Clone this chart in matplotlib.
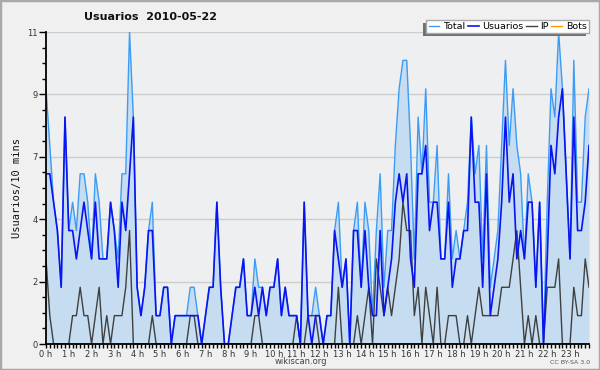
import numpy as np
import matplotlib
matplotlib.use("Agg")
import matplotlib.pyplot as plt
from matplotlib.patches import Rectangle

title = "Usuarios  2010-05-22"
ylabel = "Usuarios/10 mins"
hour_labels = [f"{h} h" for h in range(24)]
ytick_values = [0, 2.2, 4.4, 6.6, 8.8, 11]
ytick_labels = ["0", "2", "4", "7", "9", "11"]

total = [9, 7, 5, 4, 2, 8, 4, 5, 4, 6, 6, 5, 3, 6, 5, 3, 3, 5, 4, 3, 6, 6, 11, 8,
         2, 1, 2, 4, 5, 1, 1, 2, 2, 0, 1, 1, 1, 1, 2, 2, 1, 0, 1, 2, 2, 5, 2, 0,
         0, 1, 2, 2, 3, 1, 1, 3, 2, 2, 1, 2, 2, 3, 1, 2, 1, 1, 1, 0, 5, 1, 1, 2,
         1, 0, 1, 1, 4, 5, 2, 3, 0, 4, 5, 2, 5, 4, 1, 4, 6, 2, 4, 4, 7, 9, 10, 10,
         7, 3, 8, 6, 9, 5, 5, 7, 3, 3, 6, 3, 4, 3, 4, 5, 8, 6, 7, 3, 7, 2, 3, 4,
         7, 10, 7, 9, 7, 6, 3, 6, 5, 2, 5, 0, 5, 9, 8, 11, 9, 6, 3, 10, 5, 5, 8, 9]
usuarios = [6, 6, 5, 4, 2, 8, 4, 4, 3, 4, 5, 4, 3, 5, 3, 3, 3, 5, 4, 2, 5, 4, 6, 8,
            2, 1, 2, 4, 4, 1, 1, 2, 2, 0, 1, 1, 1, 1, 1, 1, 1, 0, 1, 2, 2, 5, 2, 0,
            0, 1, 2, 2, 3, 1, 1, 2, 1, 2, 1, 2, 2, 3, 1, 2, 1, 1, 1, 0, 5, 1, 0, 1,
            1, 0, 1, 1, 4, 3, 2, 3, 0, 4, 4, 2, 4, 2, 1, 1, 4, 1, 2, 3, 5, 6, 5, 6,
            3, 2, 6, 6, 7, 4, 5, 5, 3, 3, 5, 2, 3, 3, 4, 4, 8, 5, 5, 2, 6, 1, 2, 3,
            5, 8, 5, 6, 3, 4, 3, 5, 5, 2, 5, 0, 3, 7, 6, 8, 9, 6, 3, 8, 4, 4, 5, 7]
ip = [3, 1, 0, 0, 0, 0, 0, 1, 1, 2, 1, 1, 0, 1, 2, 0, 1, 0, 1, 1, 1, 2, 4, 0,
      0, 0, 0, 0, 1, 0, 0, 0, 0, 0, 0, 0, 0, 0, 1, 1, 0, 0, 0, 0, 0, 0, 0, 0,
      0, 0, 0, 0, 0, 0, 0, 1, 1, 0, 0, 0, 0, 0, 0, 0, 0, 0, 1, 0, 0, 1, 1, 1,
      0, 0, 0, 0, 0, 2, 0, 0, 0, 0, 1, 0, 1, 2, 0, 3, 2, 1, 2, 1, 2, 3, 5, 4,
      4, 1, 2, 0, 2, 1, 0, 2, 0, 0, 1, 1, 1, 0, 0, 1, 0, 1, 2, 1, 1, 1, 1, 1,
      2, 2, 2, 3, 4, 2, 0, 1, 0, 1, 0, 0, 2, 2, 2, 3, 0, 0, 0, 2, 1, 1, 3, 2]
bots = [0] * 144

slots = np.arange(len(total))

W, H = 600, 370
fig = plt.figure(figsize=(6, 3.7), dpi=100, facecolor="#f0f0f0")
fig.patches.append(Rectangle((0, 0), 1, 1, transform=fig.transFigure, fill=False,
                             edgecolor="#a8a8a8", lw=2.5, zorder=10))
ax = fig.add_axes([46 / W, 26 / H, 543 / W, 312 / H])
ax.set_facecolor("#eeeff1")

ax.fill_between(slots, total, 0, color="#c6dcf0", lw=0, zorder=1)
ax.plot(slots, bots, color="#ff9900", lw=1, zorder=1.5, label="Bots")
ax.plot(slots, total, color="#3c9cf5", lw=1.0, zorder=2, label="Total")
ax.plot(slots, ip, color="#404040", lw=1.0, zorder=2.1, label="IP")
ax.plot(slots, usuarios, color="#0a14f0", lw=1.2, zorder=2.2, label="Usuarios")

ax.set_xlim(0, len(total) - 1)
ax.set_ylim(0, 11)
ax.set_yticks(ytick_values)
ax.set_yticklabels(ytick_labels)
ax.set_yticks(np.arange(0, 11.01, 0.55), minor=True)
ax.set_xticks(np.arange(0, 144, 6))
ax.set_xticklabels(hour_labels)
ax.set_xticks(slots, minor=True)
ax.yaxis.grid(True, which="major", color="#cccccc", lw=1)
ax.set_axisbelow(True)

for s in ["top", "right"]:
    ax.spines[s].set_visible(False)
for s in ["left", "bottom"]:
    ax.spines[s].set_color("black")
    ax.spines[s].set_linewidth(1.3)
    ax.spines[s].set_zorder(3)

ax.tick_params(axis="y", which="major", length=5, width=1, color="black",
               labelsize=6, labelcolor="#333333", pad=1)
ax.tick_params(axis="y", which="minor", length=3, width=1, color="black")
ax.tick_params(axis="x", which="major", length=3, width=1, color="black",
               labelsize=6, labelcolor="#333333", pad=1)
ax.tick_params(axis="x", which="minor", length=3, width=1, color="black")

ax.set_ylabel(ylabel, family="DejaVu Sans Mono", fontsize=7.5, color="#111111",
              labelpad=4)
fig.text(151 / W, 1 - 17 / H, title, ha="center", va="center",
         fontsize=8.0, fontweight="bold", color="#111111")

handles, labels = ax.get_legend_handles_labels()
order = [labels.index(k) for k in ["Total", "Usuarios", "IP", "Bots"]]
leg = fig.legend([handles[i] for i in order], [labels[i] for i in order],
                 loc="upper right", bbox_to_anchor=(594 / W, 1 - 15 / H),
                 ncol=4, fontsize=6.8, handlelength=1.15, handletextpad=0.4,
                 columnspacing=0.25, borderpad=0.25, frameon=True, fancybox=False,
                 shadow=False, framealpha=1, edgecolor="#aaaaaa")
leg.get_frame().set_linewidth(1)
leg.set_zorder(5)

# shadow offset to the lower left, as in the reference
fig.canvas.draw()
bb = leg.get_window_extent()
fig.patches.append(Rectangle(((bb.x0 - 3) / W, (bb.y0 - 3) / H),
                             bb.width / W, bb.height / H,
                             transform=fig.transFigure, facecolor="#707070",
                             edgecolor="none", zorder=4))

fig.text(301 / W, 1 - 362 / H, "wikiscan.org", ha="center", va="center",
         fontsize=6, color="#444444")
fig.text(590 / W, 1 - 363 / H, "CC BY-SA 3.0", ha="right", va="center",
         fontsize=4.5, color="#555555")

fig.savefig("out.png", dpi=100, facecolor=fig.get_facecolor())
